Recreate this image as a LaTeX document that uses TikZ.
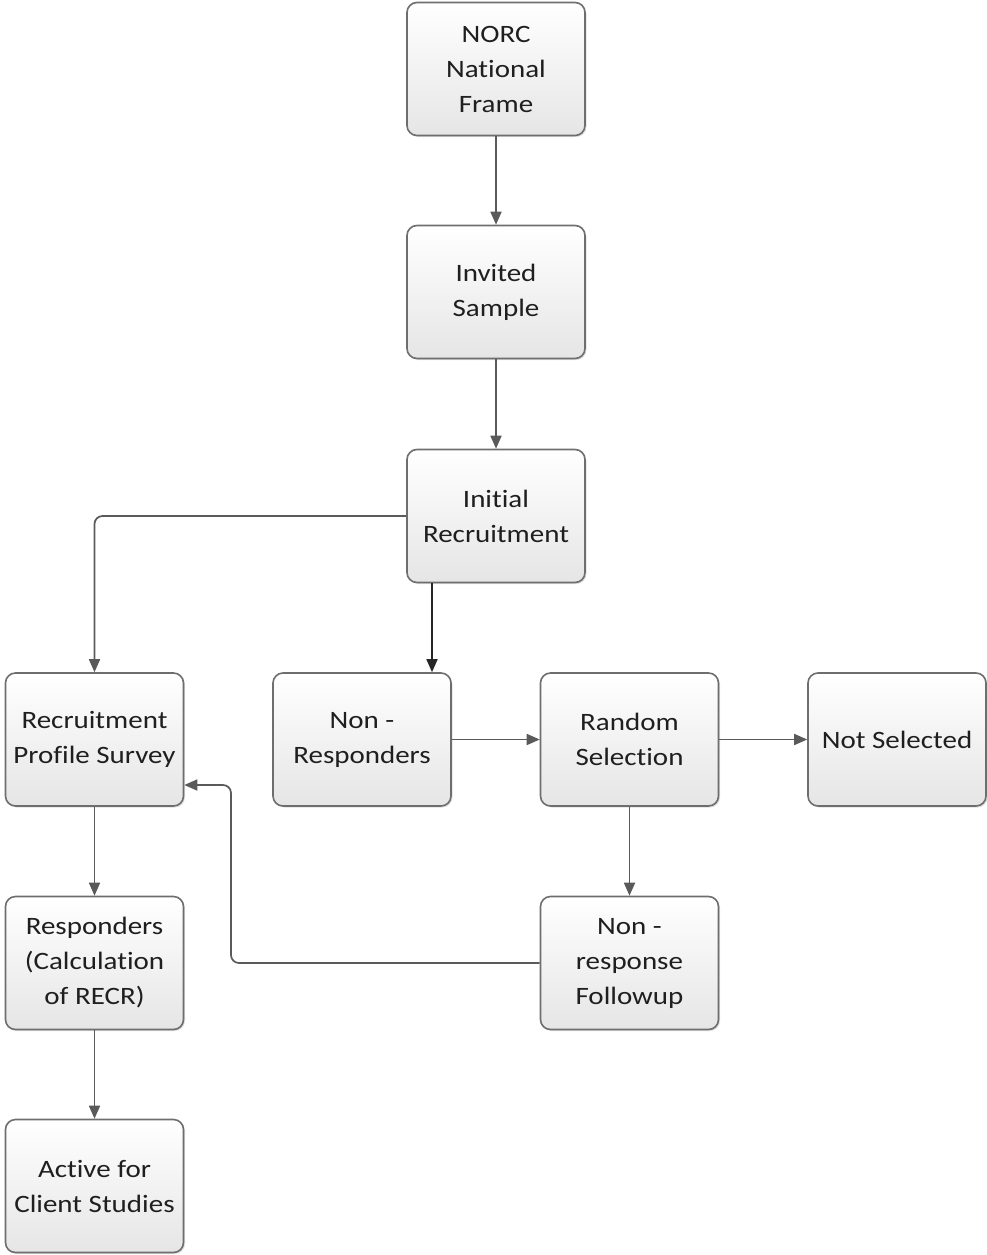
\documentclass[tikz,border=0pt]{standalone}
\usepackage{fontspec}
\setmainfont[FakeStretch=1.16,Ligatures=NoCommon]{Carlito}
\usetikzlibrary{arrows.meta,shadows}
\definecolor{edgegray}{HTML}{6E6E6E}
\definecolor{linegray}{HTML}{5A5A5A}
\begin{document}
\begin{tikzpicture}[x=1pt,y=-1pt,
  box/.style={draw=edgegray, line width=1.6pt, rounded corners=10pt,
    top color=white, bottom color=black!10, minimum width=178pt, minimum height=133pt,
    align=center, inner sep=0pt, text=black!88,
    font=\fontsize{25}{35}\selectfont,
    drop shadow={opacity=0.25, shadow xshift=1.5pt, shadow yshift=-1.5pt}},
  arr/.style={draw=linegray, line width=1.7pt, -{Triangle[length=13pt,width=11pt]}}]
\useasboundingbox (0,0) rectangle (987,1255);
\node[box] (norc) at (496,69) {NORC\\National\\Frame};
\node[box] (inv) at (496,292) {Invited\\Sample};
\node[box] (init) at (496,516) {Initial\\Recruitment};
\node[box] (rps) at (94.5,739.5) {Recruitment\\Profile Survey};
\node[box] (nr) at (362,739.5) {Non -\\Responders};
\node[box] (rs) at (629.5,739.5) {Random\\Selection};
\node[box] (ns) at (897,739.5) {Not Selected};
\node[box] (nrf) at (629.5,963) {Non -\\response\\Followup};
\node[box] (resp) at (94.5,963) {Responders\\(Calculation\\of RECR)};
\node[box] (act) at (94.5,1186) {Active for\\Client Studies};
\coordinate (bend) at (231,785);
\draw[arr] (norc) -- (inv);
\draw[arr] (inv) -- (init);
\draw[arr, rounded corners=8pt] (init.west) -| (rps.north);
\draw[arr, draw=black!85] ([xshift=-64pt]init.south) -- ([xshift=70pt]nr.north);
\draw[arr] (nr) -- (rs);
\draw[arr] (rs) -- (ns);
\draw[arr] (rs) -- (nrf);
\draw[arr, rounded corners=8pt] (nrf.west) -| (bend) -- (rps.east |- bend);
\draw[arr] (rps) -- (resp);
\draw[arr] (resp) -- (act);
\end{tikzpicture}
\end{document}
